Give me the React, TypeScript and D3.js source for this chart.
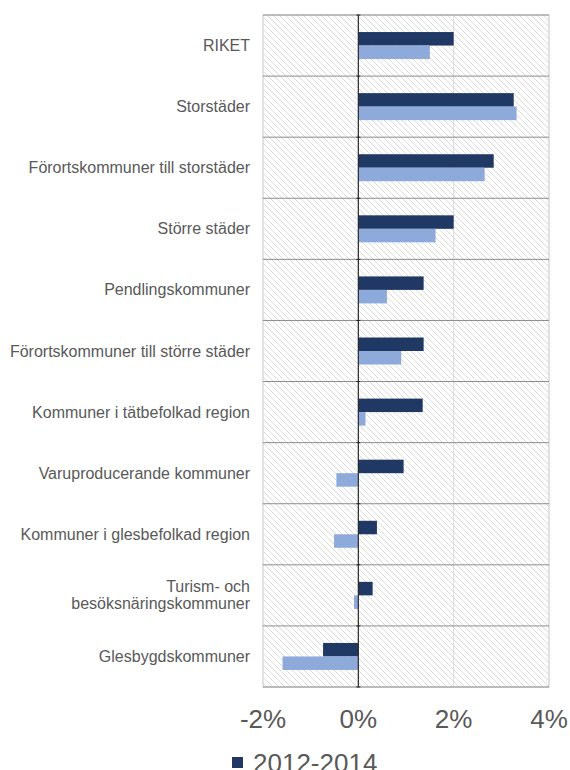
import * as d3 from "d3";

const categories = [
  "RIKET",
  "Storstäder",
  "Förortskommuner till storstäder",
  "Större städer",
  "Pendlingskommuner",
  "Förortskommuner till större städer",
  "Kommuner i tätbefolkad region",
  "Varuproducerande kommuner",
  "Kommuner i glesbefolkad region",
  "Turism- och\nbesöksnäringskommuner",
  "Glesbygdskommuner",
];
// percent change, two periods
const series2012 = [2.0, 3.26, 2.84, 2.0, 1.37, 1.37, 1.35, 0.95, 0.39, 0.3, -0.74];
const seriesOther = [1.5, 3.32, 2.65, 1.62, 0.6, 0.9, 0.15, -0.46, -0.51, -0.09, -1.59];
const ticks = [-2, 0, 2, 4];
const legendLabel = "2012-2014";

const W = 570;
const H = 770;
const dark = "#203864";
const light = "#8eaadb";

export default function App() {
  const x = d3.scaleLinear([-2, 4], [263, 549]);
  const y = d3.scaleBand(categories, [15, 687]);
  const bh = 13.5;
  const mid = (c: string) => (y(c) as number) + y.bandwidth() / 2;

  return (
    <svg width={W} height={H} style={{ position: "absolute", left: 0, top: 0, fontFamily: "Liberation Sans, Arial, sans-serif" }}>
      <defs>
        <pattern id="hatch" patternUnits="userSpaceOnUse" width={6} height={6}>
          <path d="M-1,-1 L7,7 M5,-1 L7,1 M-1,5 L1,7" stroke="#dcdcdc" strokeWidth={1} />
        </pattern>
      </defs>
      <rect x={x(-2)} y={15} width={x(4) - x(-2)} height={672} fill="url(#hatch)" stroke="#d9d9d9" />
      {ticks.filter((t) => t !== 0).map((t) => (
        <line key={t} x1={x(t)} x2={x(t)} y1={15} y2={687} stroke="#d9d9d9" />
      ))}
      {categories.map((c) => (
        <line key={c} x1={x(-2)} x2={x(4)} y1={y(c)} y2={y(c)} stroke="#8c8c8c" />
      ))}
      <line x1={x(-2)} x2={x(4)} y1={687} y2={687} stroke="#8c8c8c" />
      {categories.map((c, i) => (
        <g key={"b" + c}>
          <rect x={x(Math.min(0, series2012[i]))} y={mid(c) - bh} width={Math.abs(x(series2012[i]) - x(0))} height={bh} fill={dark} />
          <rect x={x(Math.min(0, seriesOther[i]))} y={mid(c)} width={Math.abs(x(seriesOther[i]) - x(0))} height={bh} fill={light} />
        </g>
      ))}
      <line x1={x(0)} x2={x(0)} y1={15} y2={687} stroke="#262626" strokeWidth={1.2} />
      {[...categories.map((c) => y(c) as number), 687].map((v, i) => (
        <line key={"t" + i} x1={x(0) - 2} x2={x(0) + 2} y1={v} y2={v} stroke="#262626" />
      ))}
      {categories.map((c) => {
        const lines = c.split("\n");
        const m = mid(c);
        return (
          <text key={"l" + c} x={250} textAnchor="end" fontSize={16} fill="#595959">
            {lines.map((ln, j) => (
              <tspan key={j} x={250} y={m + 5.5 + (j - (lines.length - 1) / 2) * 17}>{ln}</tspan>
            ))}
          </text>
        );
      })}
      {ticks.map((t) => (
        <text key={"x" + t} x={x(t)} y={728} textAnchor="middle" fontSize={26} fill="#595959">{t}%</text>
      ))}
      <rect x={232} y={757} width={11} height={11} fill={dark} />
      <text x={253} y={772} fontSize={26} fill="#595959">{legendLabel}</text>
    </svg>
  );
}
